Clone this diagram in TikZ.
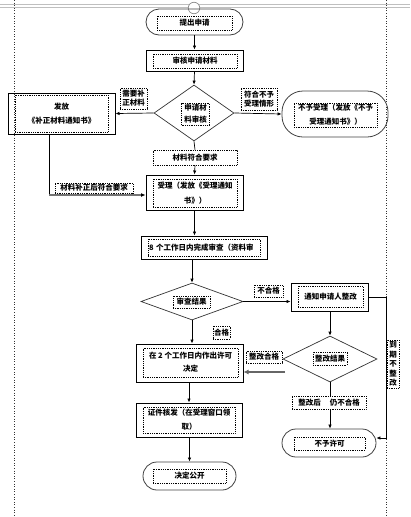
\documentclass[tikz,border=0pt]{standalone}
\usepackage{fontspec}
\setmainfont{Noto Sans CJK SC}
\usetikzlibrary{shapes.geometric,arrows.meta}
\begin{document}
\begin{tikzpicture}[x=1pt,y=-1pt,
  box/.style={draw=black,line width=1pt,inner sep=0pt},
  stad/.style={draw=black!75,line width=0.8pt,inner sep=0pt,rounded corners=#1},
  dia/.style={diamond,draw=black!80,line width=0.7pt,inner sep=0pt},
  tb/.style={draw=black,dash pattern=on 0.7pt off 1.1pt,line width=0.55pt,inner sep=0pt,
    font=\fontsize{7.5}{#1}\selectfont\bfseries,align=center,fill=white},
  tb/.default=11,
  arr/.style={-{Latex[length=4pt,width=3.4pt]},line width=0.7pt},
  margin/.style={draw=black!80,line width=0.6pt,dash pattern=on 0.6pt off 2pt},
]
\useasboundingbox (0,0) rectangle (410,517);
% page decorations
\draw[margin] (14,0) -- (14,517);
\draw[margin] (386,0) -- (386,517);
\draw[black!25,line width=0.9pt] (0,4.5) -- (410,4.5);
\draw[black!25,line width=0.9pt] (0,7.3) -- (410,7.3);
\node[circle,draw=black!45,fill=white,line width=0.7pt,minimum size=11.5pt,inner sep=0pt] (hdl) at (194,8) {};

% outer shapes
\node[stad=13,minimum width=97,minimum height=26] (n1) at (194.5,22) {};
\node[box,minimum width=97,minimum height=21] (n2) at (194.5,60.5) {};
\node[dia,minimum width=80,minimum height=56] (d1) at (194,113) {};
\node[box,minimum width=107,minimum height=41] (n3) at (61.5,113.5) {};
\node[stad=21,minimum width=106,minimum height=46] (n4) at (335,114) {};
\node[box,minimum width=97,minimum height=35] (n5) at (194.5,192.5) {};
\node[box,minimum width=126,minimum height=23] (n6) at (204,247.5) {};
\node[dia,minimum width=102,minimum height=37] (d2) at (192,301.5) {};
\node[box,minimum width=77,minimum height=28] (n7) at (329.5,297) {};
\node[box,minimum width=107,minimum height=38] (n8) at (189.5,363) {};
\node[dia,minimum width=94,minimum height=46] (d3) at (330,359) {};
\node[box,minimum width=106,minimum height=34] (n9) at (189,420) {};
\node[stad=14,minimum width=94,minimum height=28] (n10) at (329,443) {};
\node[stad=14,minimum width=93,minimum height=28] (n11) at (189.5,476) {};

% label boxes on connectors
\node[tb=9,minimum width=27,minimum height=21] (l1) at (133.5,98.5) {需要补\\正材料};
\node[tb=9.5,minimum width=36,minimum height=22] (l2) at (259,99) {符合不予\\受理情形};
\node[tb,minimum width=84,minimum height=15] (l3) at (195,157.5) {材料符合要求};
\node[tb,minimum width=78,minimum height=10] (l4) at (94,188) {材料补正后符合要求};
\node[tb,minimum width=29,minimum height=12] (l5) at (268.5,291) {不合格};
\node[tb,minimum width=17,minimum height=13] (l6) at (221.5,332.5) {合格};
\node[tb,minimum width=36,minimum height=12] (l7) at (264,357) {整改合格};
\node[tb=9.5,minimum width=12,minimum height=48] (l8) at (393,364) {到\\期\\不\\整\\改};

% connectors
\coordinate (c1) at (49,195);
\coordinate (c2) at (386,438);
\coordinate (ga) at (285,372);
\draw[arr] (n1.south) -- (n2.north);
\draw[arr] (n2.south) -- (d1.north);
\draw[arr] (d1.west) -- (n3.east);
\draw[arr] (d1.east) -- (n4.west);
\draw[line width=0.7pt] (d1.south) -- (l3.north);
\draw[arr] (l3.south) -- (n5.north);
\draw[line width=0.8pt] (n3.south -| c1) -- (c1);
\draw[black!55,line width=1.3pt,-{Latex[length=4.5pt,width=4pt,color=black]}] (c1) -- (c1 -| n5.west);
\draw[arr] (n5.south) -- (n5.south |- n6.north);
\draw[arr] (d2.north |- n6.south) -- (d2.north);
\draw[arr] (d2.east) -- (d2.east -| n7.west);
\draw[arr] (d2.south) -- (d2.south |- n8.north);
\draw[arr] (n7.south -| d3.north) -- (d3.north);
\draw[black!60,line width=2.2pt,-{Latex[length=5pt,width=5pt]}] (ga) -- (ga -| n8.east);
\draw[arr] (n7.east) -| (c2) -- (c2 -| n10.east);
\draw[arr] (d3.south) -- (d3.south |- n10.north);
\draw[arr] (n8.south -| n9.north) -- (n9.north);
\draw[arr] (n9.south -| n11.north) -- (n11.north);

\node[tb,minimum width=74,minimum height=13] (l9) at (329,402.5) {整改后\hspace{9pt}仍不合格};

% texts inside shapes
\node[tb,minimum width=75,minimum height=14] (t1) at (194.5,23) {提出申请};
\node[tb,minimum width=84,minimum height=14] (t2) at (195,61) {审核申请材料};
\node[tb=12,minimum width=28,minimum height=22] (t3) at (195.5,114) {申请材\\料审核};
\node[tb=14,minimum width=93,minimum height=37] (t4) at (61.5,113.5) {发放\\《补正材料通知书》};
\node[tb=14,minimum width=83,minimum height=24] (t5) at (335.5,115) {不予受理（发放《不予\\受理通知书》）};
\node[tb=15,minimum width=84,minimum height=28] (t6) at (195,193) {受理（发放《受理通知\\书》）};
\node[tb,minimum width=112,minimum height=17,text width=110,align=left] (t7) at (204,247.5) {8 个工作日内完成审查（资料审};
\node[tb,minimum width=37,minimum height=12] (t8) at (191.5,302) {审查结果};
\node[tb,minimum width=65,minimum height=21] (t9) at (330.5,296.5) {通知申请人整改};
\node[tb=13,minimum width=95,minimum height=29] (t10) at (190.5,362.5) {在 2 个工作日内作出许可\\决定};
\node[tb,minimum width=34,minimum height=13] (t11) at (330,358.5) {整改结果};
\node[tb=14,minimum width=92,minimum height=26] (t12) at (189,420) {证件核发（在受理窗口领\\取）};
\node[tb,minimum width=71,minimum height=13] (t13) at (329.5,443.5) {不予许可};
\node[tb,minimum width=73,minimum height=14] (t14) at (189.5,476) {决定公开};
\end{tikzpicture}
\end{document}
